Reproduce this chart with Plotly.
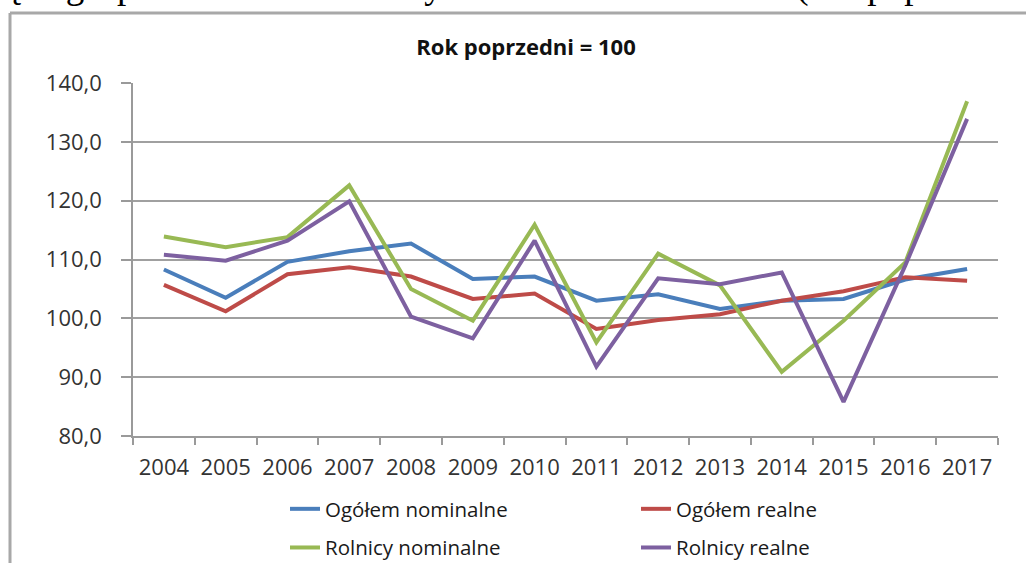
import plotly.graph_objects as go

years = ["2004", "2005", "2006", "2007", "2008", "2009", "2010",
         "2011", "2012", "2013", "2014", "2015", "2016", "2017"]
ogolem_nominalne = [108.3, 103.5, 109.6, 111.4, 112.7, 106.7, 107.1,
                    103.0, 104.1, 101.6, 103.0, 103.3, 106.6, 108.4]
ogolem_realne = [105.7, 101.2, 107.5, 108.7, 107.1, 103.3, 104.2,
                 98.2, 99.7, 100.7, 103.0, 104.6, 107.0, 106.4]
rolnicy_nominalne = [113.9, 112.1, 113.8, 122.6, 105.0, 99.6, 115.9,
                     95.9, 111.0, 105.6, 90.9, 99.6, 109.5, 136.9]
rolnicy_realne = [110.8, 109.8, 113.2, 119.9, 100.3, 96.6, 113.2,
                  91.8, 106.8, 105.8, 107.8, 85.8, 109.0, 133.9]

series = [
    ("Ogółem nominalne", ogolem_nominalne, "#4A7EBB", "legend"),
    ("Ogółem realne", ogolem_realne, "#BE4B48", "legend2"),
    ("Rolnicy nominalne", rolnicy_nominalne, "#98B954", "legend"),
    ("Rolnicy realne", rolnicy_realne, "#7D60A0", "legend2"),
]

W, H = 1026, 563
L, R, T, B = 133, 28, 83, 127
pw, ph = W - L - R, H - T - B


def px_x(p):
    return (p - L) / pw


def px_y(p):
    return (H - B - p) / ph


fig = go.Figure()
for name, vals, color, lg in series:
    fig.add_trace(go.Scatter(
        x=years, y=vals, name=name, mode="lines",
        line=dict(color=color, width=4),
        legend=lg, legendgroup=name,
    ))

tick_font = dict(family="Open Sans, Liberation Sans, sans-serif", size=22, color="#333333")
legend_font = dict(family="Open Sans, Liberation Sans, sans-serif", size=20.5, color="#1a1a1a")

fig.update_layout(
    width=W, height=H,
    margin=dict(l=L, r=R, t=T, b=B, autoexpand=False),
    paper_bgcolor="white", plot_bgcolor="white",
    separators=", ",
    title=dict(text="<b>Rok poprzedni = 100</b>", x=526 / W, xref="container",
               xanchor="center", y=1 - 47 / H, yref="container", yanchor="middle",
               font=dict(family="Open Sans, Liberation Sans, sans-serif", size=22, color="#111111")),
    xaxis=dict(type="category", range=[-0.5, 13.5], showgrid=False,
               showline=True, linecolor="#9a9a9a", linewidth=1.5,
               ticks="outside", tickson="boundaries", ticklen=7, tickcolor="#9a9a9a",
               tickwidth=1.5, tickfont=tick_font, ticklabelstandoff=11, fixedrange=True),
    yaxis=dict(range=[80, 140], dtick=10, tickformat=".1f", showgrid=True,
               gridcolor="#a0a0a0", gridwidth=1.5, zeroline=False,
               showline=True, linecolor="#9a9a9a", linewidth=1.5,
               ticks="outside", ticklen=10, tickcolor="#9a9a9a", tickwidth=1.5,
               tickfont=tick_font, ticklabelstandoff=15, fixedrange=True),
    legend=dict(x=px_x(285), y=px_y(489), xanchor="left", yanchor="top",
                orientation="v", font=legend_font, tracegroupgap=9,
                bgcolor="rgba(0,0,0,0)"),
    legend2=dict(x=px_x(636), y=px_y(489), xanchor="left", yanchor="top",
                 orientation="v", font=legend_font, tracegroupgap=9,
                 bgcolor="rgba(0,0,0,0)"),
    showlegend=True,
)

# chart frame (left and top edges visible)
fig.add_shape(type="line", xref="paper", yref="paper",
              x0=px_x(10), x1=px_x(10), y0=px_y(13), y1=px_y(H + 10),
              line=dict(color="#a8a8a8", width=3))
fig.add_shape(type="line", xref="paper", yref="paper",
              x0=px_x(10), x1=px_x(W + 10), y0=px_y(13), y1=px_y(13),
              line=dict(color="#a8a8a8", width=3))

# partially visible document text above the chart
fig.add_annotation(text="ą w gospodarstwach domowych w latach 2004–2017 (rok poprzedni = 100)",
                   xref="paper", yref="paper", x=px_x(2), y=px_y(9),
                   xanchor="left", yanchor="bottom", showarrow=False,
                   font=dict(family="Liberation Serif, Times New Roman, serif", size=37, color="#000000"))

fig.write_html("out.html", config={"displayModeBar": False},
               post_script="document.body.style.margin='0';")
